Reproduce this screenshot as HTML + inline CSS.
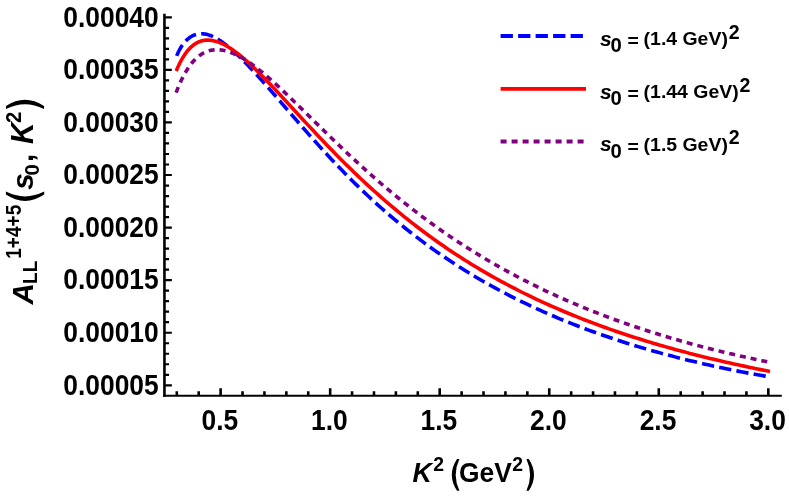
<!DOCTYPE html>
<html><head><meta charset="utf-8"><title>plot</title>
<style>
html,body{margin:0;padding:0;background:#fff;}
svg{display:block;will-change:transform;}
text{font-family:"Liberation Sans",sans-serif;font-weight:bold;fill:#000;}
.i{font-style:italic;}
</style></head><body>
<svg width="789" height="502" viewBox="0 0 789 502">
<rect x="0" y="0" width="789" height="502" fill="#fff"/>
<path d="M176.40,56.63 L177.40,54.17 L178.40,51.98 L179.40,50.00 L180.40,48.21 L181.40,46.58 L182.40,45.10 L183.40,43.74 L184.40,42.51 L185.40,41.38 L186.40,40.35 L187.40,39.41 L188.40,38.56 L189.40,37.79 L190.40,37.09 L191.40,36.47 L192.40,35.92 L193.40,35.44 L194.40,35.03 L195.40,34.67 L196.40,34.38 L197.40,34.14 L198.40,33.96 L199.40,33.84 L200.40,33.77 L201.40,33.74 L202.40,33.77 L203.40,33.85 L204.40,33.96 L205.40,34.13 L206.40,34.33 L207.40,34.58 L208.40,34.87 L209.40,35.19 L210.40,35.55 L211.40,35.95 L212.40,36.38 L213.40,36.84 L214.40,37.33 L215.40,37.85 L216.40,38.40 L217.40,38.98 L218.40,39.59 L219.40,40.21 L220.40,40.87 L221.40,41.55 L222.40,42.25 L223.40,42.97 L224.40,43.71 L225.40,44.47 L226.40,45.25 L227.40,46.04 L228.40,46.86 L229.40,47.69 L230.40,48.53 L231.40,49.39 L232.40,50.27 L233.40,51.16 L234.40,52.06 L235.40,52.98 L236.40,53.91 L237.40,54.85 L238.40,55.80 L239.40,56.76 L240.40,57.73 L241.40,58.72 L242.40,59.71 L243.40,60.71 L244.40,61.72 L245.40,62.74 L246.40,63.77 L247.40,64.80 L248.40,65.84 L249.40,66.89 L250.40,67.95 L251.40,69.01 L252.40,70.08 L253.40,71.16 L254.40,72.24 L255.40,73.32 L256.40,74.42 L257.40,75.51 L258.40,76.62 L259.40,77.72 L260.40,78.83 L261.40,79.95 L262.40,81.07 L263.40,82.19 L264.40,83.32 L265.40,84.44 L266.40,85.58 L267.40,86.71 L268.40,87.85 L269.40,88.99 L270.40,90.13 L271.40,91.28 L272.40,92.43 L273.40,93.58 L274.40,94.73 L275.40,95.88 L276.40,97.03 L277.40,98.19 L278.40,99.34 L279.40,100.50 L280.40,101.66 L281.40,102.82 L282.40,103.98 L283.40,105.13 L284.40,106.29 L285.40,107.45 L286.40,108.61 L287.40,109.77 L288.40,110.93 L289.40,112.09 L290.40,113.25 L291.40,114.41 L292.40,115.56 L293.40,116.72 L294.40,117.87 L295.40,119.03 L296.40,120.18 L297.40,121.33 L298.40,122.48 L299.40,123.63 L300.00,124.32 L303.00,127.75 L306.00,131.17 L309.00,134.57 L312.00,137.95 L315.00,141.30 L318.00,144.63 L321.00,147.94 L324.00,151.22 L327.00,154.48 L330.00,157.71 L333.00,160.90 L336.00,164.07 L339.00,167.21 L342.00,170.31 L345.00,173.39 L348.00,176.43 L351.00,179.44 L354.00,182.42 L357.00,185.36 L360.00,188.27 L363.00,191.15 L366.00,194.00 L369.00,196.81 L372.00,199.59 L375.00,202.34 L378.00,205.05 L381.00,207.73 L384.00,210.38 L387.00,212.99 L390.00,215.58 L393.00,218.13 L396.00,220.65 L399.00,223.13 L402.00,225.59 L405.00,228.01 L408.00,230.41 L411.00,232.77 L414.00,235.10 L417.00,237.41 L420.00,239.68 L423.00,241.92 L426.00,244.14 L429.00,246.33 L432.00,248.48 L435.00,250.61 L438.00,252.72 L441.00,254.79 L444.00,256.84 L447.00,258.86 L450.00,260.86 L453.00,262.83 L456.00,264.77 L459.00,266.69 L462.00,268.59 L465.00,270.46 L468.00,272.31 L471.00,274.13 L474.00,275.93 L477.00,277.70 L480.00,279.46 L483.00,281.19 L486.00,282.90 L489.00,284.58 L492.00,286.25 L495.00,287.89 L498.00,289.52 L501.00,291.12 L504.00,292.70 L507.00,294.27 L510.00,295.81 L513.00,297.33 L516.00,298.84 L519.00,300.33 L522.00,301.79 L525.00,303.24 L528.00,304.67 L531.00,306.09 L534.00,307.48 L537.00,308.86 L540.00,310.22 L543.00,311.56 L546.00,312.89 L549.00,314.20 L552.00,315.50 L555.00,316.77 L558.00,318.04 L561.00,319.29 L564.00,320.52 L567.00,321.73 L570.00,322.94 L573.00,324.12 L576.00,325.30 L579.00,326.45 L582.00,327.60 L585.00,328.73 L588.00,329.84 L591.00,330.95 L594.00,332.03 L597.00,333.11 L600.00,334.17 L603.00,335.22 L606.00,336.26 L609.00,337.28 L612.00,338.29 L615.00,339.29 L618.00,340.28 L621.00,341.25 L624.00,342.22 L627.00,343.17 L630.00,344.11 L633.00,345.03 L636.00,345.95 L639.00,346.86 L642.00,347.75 L645.00,348.63 L648.00,349.50 L651.00,350.37 L654.00,351.22 L657.00,352.06 L660.00,352.89 L663.00,353.71 L666.00,354.51 L669.00,355.31 L672.00,356.10 L675.00,356.88 L678.00,357.65 L681.00,358.41 L684.00,359.16 L687.00,359.90 L690.00,360.63 L693.00,361.35 L696.00,362.07 L699.00,362.77 L702.00,363.46 L705.00,364.15 L708.00,364.83 L711.00,365.49 L714.00,366.15 L717.00,366.81 L720.00,367.45 L723.00,368.08 L726.00,368.71 L729.00,369.32 L732.00,369.93 L735.00,370.53 L738.00,371.13 L741.00,371.71 L744.00,372.29 L747.00,372.86 L750.00,373.42 L753.00,373.97 L756.00,374.52 L759.00,375.06 L762.00,375.59 L765.00,376.11 L768.00,376.63 L770.00,376.97" fill="none" stroke="#0000ff" stroke-width="3.6" stroke-dasharray="12.3 5.23" stroke-dashoffset="-0.8"/>
<path d="M176.20,70.94 L177.20,68.59 L178.20,66.37 L179.20,64.26 L180.20,62.26 L181.20,60.38 L182.20,58.60 L183.20,56.93 L184.20,55.37 L185.20,53.90 L186.20,52.52 L187.20,51.24 L188.20,50.04 L189.20,48.93 L190.20,47.90 L191.20,46.95 L192.20,46.07 L193.20,45.26 L194.20,44.52 L195.20,43.85 L196.20,43.24 L197.20,42.70 L198.20,42.21 L199.20,41.77 L200.20,41.40 L201.20,41.07 L202.20,40.80 L203.20,40.57 L204.20,40.40 L205.20,40.26 L206.20,40.17 L207.20,40.13 L208.20,40.12 L209.20,40.16 L210.20,40.23 L211.20,40.34 L212.20,40.49 L213.20,40.67 L214.20,40.88 L215.20,41.13 L216.20,41.41 L217.20,41.72 L218.20,42.06 L219.20,42.43 L220.20,42.83 L221.20,43.26 L222.20,43.71 L223.20,44.19 L224.20,44.69 L225.20,45.21 L226.20,45.76 L227.20,46.34 L228.20,46.93 L229.20,47.54 L230.20,48.18 L231.20,48.84 L232.20,49.51 L233.20,50.20 L234.20,50.91 L235.20,51.64 L236.20,52.39 L237.20,53.15 L238.20,53.93 L239.20,54.72 L240.20,55.52 L241.20,56.34 L242.20,57.18 L243.20,58.02 L244.20,58.88 L245.20,59.75 L246.20,60.64 L247.20,61.53 L248.20,62.44 L249.20,63.35 L250.20,64.27 L251.20,65.21 L252.20,66.15 L253.20,67.10 L254.20,68.06 L255.20,69.03 L256.20,70.01 L257.20,70.99 L258.20,71.98 L259.20,72.98 L260.20,73.98 L261.20,74.99 L262.20,76.00 L263.20,77.02 L264.20,78.05 L265.20,79.08 L266.20,80.11 L267.20,81.15 L268.20,82.19 L269.20,83.24 L270.20,84.29 L271.20,85.34 L272.20,86.40 L273.20,87.46 L274.20,88.52 L275.20,89.59 L276.20,90.66 L277.20,91.73 L278.20,92.80 L279.20,93.88 L280.20,94.95 L281.20,96.03 L282.20,97.11 L283.20,98.19 L284.20,99.27 L285.20,100.36 L286.20,101.44 L287.20,102.53 L288.20,103.61 L289.20,104.70 L290.20,105.78 L291.20,106.87 L292.20,107.95 L293.20,109.04 L294.20,110.13 L295.20,111.21 L296.20,112.30 L297.20,113.38 L298.20,114.47 L299.20,115.55 L300.00,116.42 L303.00,119.67 L306.00,122.90 L309.00,126.13 L312.00,129.34 L315.00,132.54 L318.00,135.72 L321.00,138.88 L324.00,142.03 L327.00,145.15 L330.00,148.25 L333.00,151.34 L336.00,154.39 L339.00,157.43 L342.00,160.44 L345.00,163.42 L348.00,166.38 L351.00,169.31 L354.00,172.22 L357.00,175.10 L360.00,177.95 L363.00,180.77 L366.00,183.56 L369.00,186.33 L372.00,189.07 L375.00,191.78 L378.00,194.46 L381.00,197.12 L384.00,199.74 L387.00,202.34 L390.00,204.90 L393.00,207.44 L396.00,209.95 L399.00,212.43 L402.00,214.89 L405.00,217.31 L408.00,219.71 L411.00,222.08 L414.00,224.42 L417.00,226.73 L420.00,229.02 L423.00,231.28 L426.00,233.51 L429.00,235.72 L432.00,237.90 L435.00,240.05 L438.00,242.18 L441.00,244.28 L444.00,246.35 L447.00,248.40 L450.00,250.43 L453.00,252.43 L456.00,254.41 L459.00,256.36 L462.00,258.29 L465.00,260.19 L468.00,262.07 L471.00,263.93 L474.00,265.77 L477.00,267.58 L480.00,269.37 L483.00,271.14 L486.00,272.89 L489.00,274.61 L492.00,276.32 L495.00,278.00 L498.00,279.66 L501.00,281.30 L504.00,282.93 L507.00,284.53 L510.00,286.11 L513.00,287.67 L516.00,289.22 L519.00,290.74 L522.00,292.25 L525.00,293.74 L528.00,295.21 L531.00,296.66 L534.00,298.10 L537.00,299.51 L540.00,300.91 L543.00,302.30 L546.00,303.66 L549.00,305.01 L552.00,306.35 L555.00,307.66 L558.00,308.96 L561.00,310.25 L564.00,311.52 L567.00,312.78 L570.00,314.02 L573.00,315.24 L576.00,316.45 L579.00,317.65 L582.00,318.83 L585.00,320.00 L588.00,321.15 L591.00,322.30 L594.00,323.42 L597.00,324.54 L600.00,325.64 L603.00,326.73 L606.00,327.80 L609.00,328.86 L612.00,329.92 L615.00,330.95 L618.00,331.98 L621.00,332.99 L624.00,334.00 L627.00,334.99 L630.00,335.97 L633.00,336.94 L636.00,337.89 L639.00,338.84 L642.00,339.78 L645.00,340.70 L648.00,341.62 L651.00,342.52 L654.00,343.42 L657.00,344.30 L660.00,345.17 L663.00,346.04 L666.00,346.89 L669.00,347.74 L672.00,348.57 L675.00,349.40 L678.00,350.22 L681.00,351.03 L684.00,351.83 L687.00,352.62 L690.00,353.40 L693.00,354.17 L696.00,354.94 L699.00,355.69 L702.00,356.44 L705.00,357.18 L708.00,357.92 L711.00,358.64 L714.00,359.36 L717.00,360.07 L720.00,360.77 L723.00,361.47 L726.00,362.15 L729.00,362.83 L732.00,363.51 L735.00,364.17 L738.00,364.83 L741.00,365.48 L744.00,366.13 L747.00,366.77 L750.00,367.40 L753.00,368.03 L756.00,368.65 L759.00,369.26 L762.00,369.87 L765.00,370.47 L768.00,371.06 L770.00,371.46" fill="none" stroke="#ff0000" stroke-width="3.6"/>
<path d="M176.08,92.66 L177.08,90.13 L178.08,87.68 L179.08,85.32 L180.08,83.05 L181.08,80.87 L182.08,78.78 L183.08,76.78 L184.08,74.88 L185.08,73.07 L186.08,71.34 L187.08,69.70 L188.08,68.15 L189.08,66.67 L190.08,65.28 L191.08,63.96 L192.08,62.72 L193.08,61.54 L194.08,60.44 L195.08,59.40 L196.08,58.43 L197.08,57.52 L198.08,56.67 L199.08,55.88 L200.08,55.15 L201.08,54.47 L202.08,53.84 L203.08,53.26 L204.08,52.74 L205.08,52.26 L206.08,51.82 L207.08,51.44 L208.08,51.09 L209.08,50.79 L210.08,50.52 L211.08,50.30 L212.08,50.12 L213.08,49.97 L214.08,49.86 L215.08,49.78 L216.08,49.74 L217.08,49.73 L218.08,49.75 L219.08,49.80 L220.08,49.89 L221.08,50.00 L222.08,50.15 L223.08,50.32 L224.08,50.52 L225.08,50.74 L226.08,50.99 L227.08,51.27 L228.08,51.56 L229.08,51.89 L230.08,52.23 L231.08,52.60 L232.08,52.99 L233.08,53.40 L234.08,53.83 L235.08,54.29 L236.08,54.76 L237.08,55.25 L238.08,55.75 L239.08,56.28 L240.08,56.82 L241.08,57.38 L242.08,57.96 L243.08,58.55 L244.08,59.16 L245.08,59.78 L246.08,60.41 L247.08,61.06 L248.08,61.73 L249.08,62.40 L250.08,63.09 L251.08,63.80 L252.08,64.51 L253.08,65.24 L254.08,65.97 L255.08,66.72 L256.08,67.48 L257.08,68.25 L258.08,69.03 L259.08,69.82 L260.08,70.62 L261.08,71.42 L262.08,72.24 L263.08,73.06 L264.08,73.90 L265.08,74.74 L266.08,75.58 L267.08,76.44 L268.08,77.30 L269.08,78.17 L270.08,79.04 L271.08,79.93 L272.08,80.81 L273.08,81.71 L274.08,82.61 L275.08,83.51 L276.08,84.42 L277.08,85.33 L278.08,86.25 L279.08,87.18 L280.08,88.10 L281.08,89.04 L282.08,89.97 L283.08,90.91 L284.08,91.86 L285.08,92.80 L286.08,93.75 L287.08,94.70 L288.08,95.66 L289.08,96.62 L290.08,97.58 L291.08,98.54 L292.08,99.51 L293.08,100.48 L294.08,101.45 L295.08,102.42 L296.08,103.39 L297.08,104.37 L298.08,105.34 L299.08,106.32 L300.00,107.22 L303.00,110.16 L306.00,113.11 L309.00,116.06 L312.00,119.02 L315.00,121.97 L318.00,124.91 L321.00,127.86 L324.00,130.79 L327.00,133.72 L330.00,136.63 L333.00,139.53 L336.00,142.42 L339.00,145.30 L342.00,148.15 L345.00,151.00 L348.00,153.82 L351.00,156.62 L354.00,159.41 L357.00,162.17 L360.00,164.92 L363.00,167.64 L366.00,170.34 L369.00,173.02 L372.00,175.67 L375.00,178.31 L378.00,180.92 L381.00,183.50 L384.00,186.07 L387.00,188.61 L390.00,191.12 L393.00,193.61 L396.00,196.08 L399.00,198.52 L402.00,200.94 L405.00,203.34 L408.00,205.71 L411.00,208.05 L414.00,210.38 L417.00,212.67 L420.00,214.95 L423.00,217.20 L426.00,219.43 L429.00,221.63 L432.00,223.81 L435.00,225.97 L438.00,228.10 L441.00,230.21 L444.00,232.30 L447.00,234.36 L450.00,236.40 L453.00,238.42 L456.00,240.42 L459.00,242.40 L462.00,244.35 L465.00,246.28 L468.00,248.19 L471.00,250.08 L474.00,251.95 L477.00,253.80 L480.00,255.62 L483.00,257.43 L486.00,259.22 L489.00,260.98 L492.00,262.73 L495.00,264.46 L498.00,266.16 L501.00,267.85 L504.00,269.52 L507.00,271.17 L510.00,272.80 L513.00,274.42 L516.00,276.01 L519.00,277.59 L522.00,279.15 L525.00,280.69 L528.00,282.22 L531.00,283.73 L534.00,285.22 L537.00,286.69 L540.00,288.15 L543.00,289.59 L546.00,291.01 L549.00,292.42 L552.00,293.81 L555.00,295.19 L558.00,296.55 L561.00,297.90 L564.00,299.23 L567.00,300.55 L570.00,301.85 L573.00,303.13 L576.00,304.40 L579.00,305.66 L582.00,306.91 L585.00,308.13 L588.00,309.35 L591.00,310.55 L594.00,311.74 L597.00,312.92 L600.00,314.08 L603.00,315.23 L606.00,316.36 L609.00,317.48 L612.00,318.59 L615.00,319.69 L618.00,320.78 L621.00,321.85 L624.00,322.91 L627.00,323.96 L630.00,325.00 L633.00,326.02 L636.00,327.04 L639.00,328.04 L642.00,329.03 L645.00,330.01 L648.00,330.98 L651.00,331.94 L654.00,332.89 L657.00,333.82 L660.00,334.75 L663.00,335.66 L666.00,336.57 L669.00,337.47 L672.00,338.35 L675.00,339.23 L678.00,340.09 L681.00,340.95 L684.00,341.79 L687.00,342.63 L690.00,343.46 L693.00,344.27 L696.00,345.08 L699.00,345.88 L702.00,346.67 L705.00,347.45 L708.00,348.22 L711.00,348.99 L714.00,349.74 L717.00,350.49 L720.00,351.23 L723.00,351.96 L726.00,352.68 L729.00,353.39 L732.00,354.09 L735.00,354.79 L738.00,355.48 L741.00,356.16 L744.00,356.83 L747.00,357.50 L750.00,358.16 L753.00,358.81 L756.00,359.45 L759.00,360.09 L762.00,360.72 L765.00,361.34 L768.00,361.95 L770.00,362.36" fill="none" stroke="#800080" stroke-width="3.6" stroke-dasharray="6 4.965"/>
<g stroke="#000" fill="none">
<path d="M164.45,13.7 V396.85" stroke-width="2.6"/>
<path d="M163.14999999999998,395.75 H781.8" stroke-width="2.2"/>
<path d="M164.45,385.30 h7.4 M164.45,374.78 h4.6 M164.45,364.27 h4.6 M164.45,353.75 h4.6 M164.45,343.24 h4.6 M164.45,332.73 h7.4 M164.45,322.21 h4.6 M164.45,311.70 h4.6 M164.45,301.18 h4.6 M164.45,290.67 h4.6 M164.45,280.16 h7.4 M164.45,269.64 h4.6 M164.45,259.13 h4.6 M164.45,248.61 h4.6 M164.45,238.10 h4.6 M164.45,227.58 h7.4 M164.45,217.07 h4.6 M164.45,206.56 h4.6 M164.45,196.04 h4.6 M164.45,185.53 h4.6 M164.45,175.01 h7.4 M164.45,164.50 h4.6 M164.45,153.98 h4.6 M164.45,143.47 h4.6 M164.45,132.96 h4.6 M164.45,122.44 h7.4 M164.45,111.93 h4.6 M164.45,101.41 h4.6 M164.45,90.90 h4.6 M164.45,80.39 h4.6 M164.45,69.87 h7.4 M164.45,59.36 h4.6 M164.45,48.84 h4.6 M164.45,38.33 h4.6 M164.45,27.81 h4.6 M164.45,17.30 h7.4" stroke-width="2.2"/>
<path d="M176.80,395.75 v-4.4 M198.71,395.75 v-4.4 M220.62,395.75 v-7.6 M242.53,395.75 v-4.4 M264.44,395.75 v-4.4 M286.35,395.75 v-4.4 M308.25,395.75 v-4.4 M330.16,395.75 v-7.6 M352.07,395.75 v-4.4 M373.98,395.75 v-4.4 M395.89,395.75 v-4.4 M417.80,395.75 v-4.4 M439.71,395.75 v-7.6 M461.61,395.75 v-4.4 M483.52,395.75 v-4.4 M505.43,395.75 v-4.4 M527.34,395.75 v-4.4 M549.25,395.75 v-7.6 M571.16,395.75 v-4.4 M593.06,395.75 v-4.4 M614.97,395.75 v-4.4 M636.88,395.75 v-4.4 M658.79,395.75 v-7.6 M680.70,395.75 v-4.4 M702.61,395.75 v-4.4 M724.52,395.75 v-4.4 M746.42,395.75 v-4.4 M768.33,395.75 v-7.6" stroke-width="2.6"/>
</g>
<g font-size="26.4" text-anchor="end">
<text transform="translate(158.7,394.55) scale(1,1.087)">0.00005</text>
<text transform="translate(158.7,341.98) scale(1,1.087)">0.00010</text>
<text transform="translate(158.7,289.41) scale(1,1.087)">0.00015</text>
<text transform="translate(158.7,236.83) scale(1,1.087)">0.00020</text>
<text transform="translate(158.7,184.26) scale(1,1.087)">0.00025</text>
<text transform="translate(158.7,131.69) scale(1,1.087)">0.00030</text>
<text transform="translate(158.7,79.12) scale(1,1.087)">0.00035</text>
<text transform="translate(158.7,26.55) scale(1,1.087)">0.00040</text>
</g>
<g font-size="26.4" text-anchor="middle">
<text transform="translate(219.82,430.1) scale(1,1.087)">0.5</text>
<text transform="translate(329.36,430.1) scale(1,1.087)">1.0</text>
<text transform="translate(438.91,430.1) scale(1,1.087)">1.5</text>
<text transform="translate(548.45,430.1) scale(1,1.087)">2.0</text>
<text transform="translate(657.99,430.1) scale(1,1.087)">2.5</text>
<text transform="translate(767.53,430.1) scale(1,1.087)">3.0</text>
</g>
<text class="i" font-size="26.8" transform="translate(412.60,481.60) scale(1.0,1.03)">K</text>
<text font-size="19.4" transform="translate(433.30,470.80) scale(1.0,1.03)">2</text>
<path d="M457.00,459.00 Q446.60,474.90 457.00,490.80 L459.40,490.80 Q452.00,474.90 459.40,459.00 Z" fill="#000"/>
<text font-size="26.8" transform="translate(459.0,481.6) scale(0.985,1.03)">GeV</text>
<text font-size="19.4" transform="translate(512.20,470.80) scale(1.0,1.03)">2</text>
<path d="M528.80,459.00 Q539.20,474.90 528.80,490.80 L526.40,490.80 Q533.80,474.90 526.40,459.00 Z" fill="#000"/>
<g transform="rotate(-90)">
<text class="i" font-size="29.8" x="-304.60" y="33.25">A</text>
<text font-size="20.2" transform="translate(-284.00,37.05) scale(0.95,1.0)">LL</text>
<text font-size="20.2" transform="translate(-258.80,20.55) scale(0.945,1.05)">1+4+5</text>
<path d="M-194.60,5.90 Q-207.20,25.05 -194.60,44.20 L-191.60,44.20 Q-201.20,25.05 -191.60,5.90 Z" fill="#000"/>
<text class="i" font-size="29.8" x="-189.80" y="33.25">s</text>
<text font-size="20.2" x="-175.60" y="38.65">0</text>
<text font-size="29.8" x="-162.00" y="33.25">,</text>
<text class="i" font-size="29.8" transform="translate(-144.00,33.25) scale(1.0,1.04)">K</text>
<text font-size="20.2" transform="translate(-122.90,20.85) scale(1.0,1.05)">2</text>
<path d="M-106.10,6.00 Q-93.50,25.00 -106.10,44.00 L-109.10,44.00 Q-99.50,25.00 -109.10,6.00 Z" fill="#000"/>
</g>
<path d="M500.6,36 H586" fill="none" stroke="#0000ff" stroke-width="3.8" stroke-dasharray="12.3 5.2"/>
<path d="M500.6,88.9 H586" fill="none" stroke="#ff0000" stroke-width="3.8"/>
<path d="M500.6,141.5 H586" fill="none" stroke="#800080" stroke-width="3.8" stroke-dasharray="6 5"/>
<text class="i" font-size="21" x="600.00" y="45.80">s</text>
<text font-size="20.3" transform="translate(610.50,52.00) scale(1.0,1.03)">0</text>
<text font-size="21.5" transform="translate(627.40,47.15) scale(0.9,0.82)">=</text>
<text font-size="18.7" transform="translate(643.60,45.30) scale(1.04,1.03)">(1.4 GeV)</text>
<text font-size="19.6" transform="translate(728.70,38.80) scale(1.0,1.02)">2</text>
<text class="i" font-size="21" x="600.00" y="98.70">s</text>
<text font-size="20.3" transform="translate(610.50,104.90) scale(1.0,1.03)">0</text>
<text font-size="21.5" transform="translate(627.40,100.05) scale(0.9,0.82)">=</text>
<text font-size="18.7" transform="translate(643.60,98.20) scale(1.04,1.03)">(1.44 GeV)</text>
<text font-size="19.6" transform="translate(739.55,91.70) scale(1.0,1.02)">2</text>
<text class="i" font-size="21" x="600.00" y="151.30">s</text>
<text font-size="20.3" transform="translate(610.50,157.50) scale(1.0,1.03)">0</text>
<text font-size="21.5" transform="translate(627.40,152.65) scale(0.9,0.82)">=</text>
<text font-size="18.7" transform="translate(643.60,150.80) scale(1.04,1.03)">(1.5 GeV)</text>
<text font-size="19.6" transform="translate(728.70,144.30) scale(1.0,1.02)">2</text>
</svg>
</body></html>
